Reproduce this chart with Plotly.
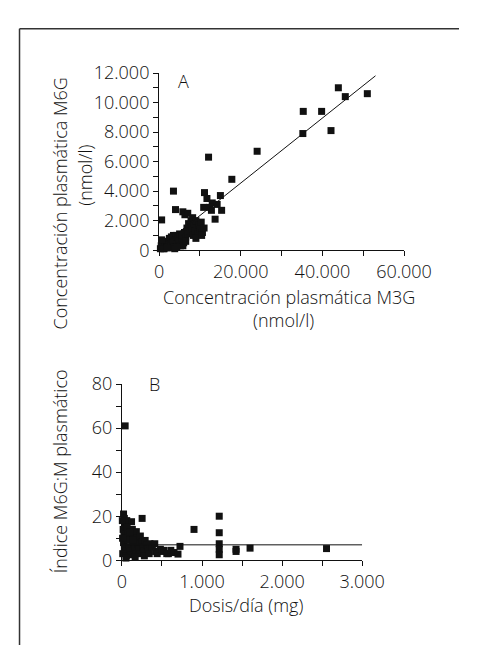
import plotly.graph_objects as go

W, H = 479, 648

# ---------------- Panel A data (nmol/l) ----------------
a_m3g = [43900, 45600, 51000, 35300, 39800, 35200, 42100, 24000, 12100, 17800,
         3500, 11100, 15000, 11700, 13000, 14200, 10900, 12400, 12800, 15300,
         13700, 4000, 5800, 600,
         300, 500, 800, 1000, 1200, 1500, 1800, 2000, 2200, 2500,
         2700, 3000, 3000, 3300, 3500, 3700, 4000, 4200, 4400, 4600,
         4800, 5000, 5200, 5500, 5700, 6000, 6200, 6500, 6800, 7000,
         7200, 7500, 7800, 8000, 8200, 8400, 8600, 8800, 9000, 9200,
         9500, 9800, 10000, 10300, 10600, 11000, 6300, 7000, 1000, 2000,
         3800, 5800, 6500, 9000, 10400, 600, 4300]
a_m6g = [11000, 10400, 10600, 9400, 9400, 7900, 8100, 6700, 6300, 4800,
         4000, 3900, 3700, 3500, 3200, 3100, 2900, 2900, 2700, 2700,
         2100, 2750, 2600, 2050,
         100, 300, 200, 400, 100, 500, 300, 600, 200, 800,
         400, 900, 300, 600, 1000, 200, 700, 1000, 400, 900,
         600, 1100, 300, 800, 1000, 500, 1200, 900, 1500, 1100,
         1800, 1300, 2000, 1600, 2200, 1000, 1800, 1300, 2000, 1500,
         1100, 1700, 1400, 1900, 1200, 1500, 2400, 2500, 100, 150,
         100, 300, 600, 800, 1000, 700, 200]
a_fit_x = [2000, 53000]
a_fit_y = [590, 11810]

a_xticks = [0, 10000, 20000, 30000, 40000, 50000, 60000]
a_xtext = ["0", "", "20.000", "", "40.000", "", "60.000"]
a_yticks = list(range(0, 13000, 1000))
a_ytext = ["0", "", "2.000", "", "4.000", "", "6.000", "", "8.000", "", "10.000", "", "12.000"]

# ---------------- Panel B data ----------------
b_dose = [40, 20, 30, 40, 15, 25, 35, 20, 30, 45, 10, 55, 60, 70, 80, 90, 100, 110,
          120, 130, 140, 150, 160, 170, 180, 190, 200, 210, 220, 230, 250, 260, 270,
          280, 252, 290, 310, 330, 340, 350, 380, 410, 420, 440, 480, 500, 520, 560,
          580, 610, 650, 700, 725, 900, 1215, 1215, 1215, 1215, 1215, 1425, 1425,
          1600, 2555, 5, 8, 50, 65, 95, 135, 165]
b_ratio = [61, 21, 19, 16.5, 14, 12, 10, 8, 6, 4, 3, 2, 18, 12, 9, 6, 4, 2.5,
           17.5, 14, 11, 8, 5.5, 3, 13, 10, 7.5, 5, 3, 11, 8.5, 6, 4,
           2, 19, 9, 7, 5, 3, 7.5, 6, 7.5, 4, 3, 5, 4, 4.5, 3,
           3, 4.5, 3.5, 2.8, 6.3, 14, 20, 12.5, 7.5, 5, 2.5, 5, 4,
           5.5, 5.3, 18, 10, 1, 15, 13, 9, 1.5]
b_fit_x = [0, 3000]
b_fit_y = [7, 7]

b_xticks = [0, 500, 1000, 1500, 2000, 2500, 3000]
b_xtext = ["0", "", "1.000", "", "2.000", "", "3.000"]
b_yticks = [0, 10, 20, 30, 40, 50, 60, 70, 80]
b_ytext = ["0", "", "20", "", "40", "", "60", "", "80"]

FONT = "Open Sans"
FS = 18
INK = "#111111"


def px_x(p):
    return p / W


def px_y(p):
    return 1 - p / H


fig = go.Figure()
fig.add_trace(go.Scatter(x=a_m3g, y=a_m6g, mode="markers", xaxis="x", yaxis="y",
                         marker=dict(symbol="square", size=7, color=INK), cliponaxis=False))
fig.add_trace(go.Scatter(x=a_fit_x, y=a_fit_y, mode="lines", xaxis="x", yaxis="y",
                         line=dict(color=INK, width=1), cliponaxis=False))
fig.add_trace(go.Scatter(x=b_dose, y=b_ratio, mode="markers", xaxis="x2", yaxis="y2",
                         marker=dict(symbol="square", size=7, color=INK), cliponaxis=False))
fig.add_trace(go.Scatter(x=b_fit_x, y=b_fit_y, mode="lines", xaxis="x2", yaxis="y2",
                         line=dict(color=INK, width=1), cliponaxis=False))

axis_common = dict(showgrid=False, zeroline=False, showline=True, linecolor=INK, linewidth=1.3,
                   ticks="outside", ticklen=5, tickcolor=INK, tickwidth=1.2,
                   tickfont=dict(family=FONT, size=FS, color=INK, weight=300), tickmode="array",
                   fixedrange=True)

fig.update_layout(
    width=W, height=H, margin=dict(l=0, r=0, t=0, b=0),
    paper_bgcolor="white", plot_bgcolor="white", showlegend=False,
    xaxis=dict(axis_common, domain=[px_x(157), px_x(420)], range=[0, 60000],
               tickvals=a_xticks, ticktext=a_xtext, anchor="y"),
    yaxis=dict(axis_common, domain=[px_y(238), px_y(54)], range=[0, 12000],
               tickvals=a_yticks, ticktext=a_ytext, anchor="x"),
    xaxis2=dict(axis_common, domain=[px_x(117), px_x(375)], range=[0, 3000],
                tickvals=b_xticks, ticktext=b_xtext, anchor="y2"),
    yaxis2=dict(axis_common, domain=[px_y(560), px_y(377)], range=[0, 80],
                tickvals=b_yticks, ticktext=b_ytext, anchor="x2"),
)

tf = dict(family=FONT, size=FS, color=INK, weight=300)
ann = [
    dict(text="A", x=px_x(183), y=px_y(62), xanchor="center", yanchor="middle"),
    dict(text="B", x=px_x(152), y=px_y(377), xanchor="center", yanchor="middle"),
    dict(text="Concentración plasmática M3G", x=px_x(296), y=px_y(287), xanchor="center", yanchor="middle"),
    dict(text="(nmol/l)", x=px_x(290), y=px_y(311), xanchor="center", yanchor="middle"),
    dict(text="Concentración plasmática M6G", x=px_x(50), y=px_y(190), xanchor="center", yanchor="middle", textangle=-90),
    dict(text="(nmol/l)", x=px_x(77), y=px_y(160), xanchor="center", yanchor="middle", textangle=-90),
    dict(text="Índice M6G:M plasmático", x=px_x(50), y=px_y(468), xanchor="center", yanchor="middle", textangle=-90),
    dict(text="Dosis/día (mg)", x=px_x(250), y=px_y(606), xanchor="center", yanchor="middle"),
]
for a in ann:
    a.update(xref="paper", yref="paper", showarrow=False, font=tf)
fig.update_layout(annotations=ann)

fig.update_layout(shapes=[
    dict(type="line", xref="paper", yref="paper", x0=px_x(7), x1=1, y0=px_y(8), y1=px_y(8),
         line=dict(color="#333333", width=1.5)),
    dict(type="line", xref="paper", yref="paper", x0=px_x(7), x1=px_x(7), y0=px_y(8), y1=0,
         line=dict(color="#333333", width=1.5)),
])

fig.write_html("out.html")
